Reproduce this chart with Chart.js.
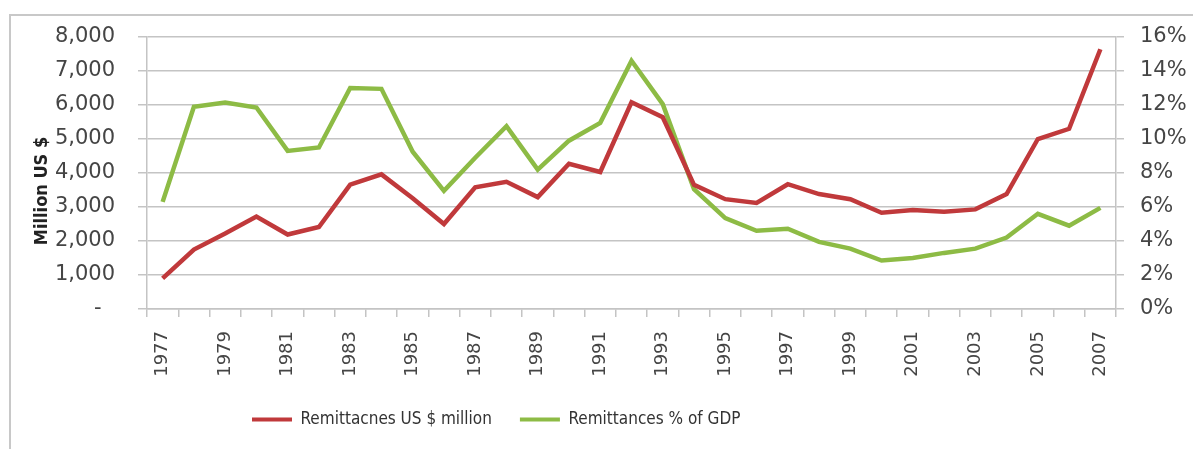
<!DOCTYPE html>
<html>
<head>
<meta charset="utf-8">
<script src="https://cdn.jsdelivr.net/npm/chart.js@4.4.0/dist/chart.umd.min.js"></script>
<style>
  html, body { margin: 0; padding: 0; background: #fff; }
  #wrap { position: relative; width: 1193px; height: 449px; }
</style>
</head>
<body>
<div id="wrap"><canvas id="chart" width="1193" height="449"></canvas></div>
<script>
  const years = ['1977','1978','1979','1980','1981','1982','1983','1984','1985','1986',
    '1987','1988','1989','1990','1991','1992','1993','1994','1995','1996',
    '1997','1998','1999','2000','2001','2002','2003','2004','2005','2006','2007'];

  // Remittances, US $ million
  const remitMillion = [900, 1750, 2220, 2720, 2190, 2410, 3660, 3960, 3260, 2500,
    3580, 3740, 3290, 4270, 4030, 6080, 5640, 3650, 3230, 3120,
    3670, 3380, 3230, 2830, 2910, 2860, 2930, 3380, 5000, 5300, 7640];

  // Remittances as % of GDP
  const remitPctGdp = [6.3, 11.9, 12.15, 11.85, 9.3, 9.5, 13.0, 12.95, 9.25, 6.95,
    8.9, 10.75, 8.2, 9.9, 10.95, 14.6, 12.05, 7.05, 5.35, 4.6,
    4.72, 3.95, 3.55, 2.85, 3.0, 3.3, 3.55, 4.2, 5.6, 4.9, 5.95];

  const seriesNames = ['Remittacnes US $ million', 'Remittances % of GDP'];
  const axisTitle = 'Million US $';

  const gridColor = '#c4c4c4';
  const textColor = '#454545';
  const legendFont = "'Liberation Sans Narrow', 'DejaVu Sans Condensed', sans-serif";

  // outer frame of the chart object + rotated axis title
  const decor = {
    id: 'decor',
    beforeDraw(chart) {
      const ctx = chart.ctx;
      ctx.save();
      ctx.strokeStyle = '#c8c8c8';
      ctx.lineWidth = 2;
      ctx.beginPath();
      ctx.moveTo(10, 449);
      ctx.lineTo(10, 15);
      ctx.lineTo(1193, 15);
      ctx.stroke();
      ctx.restore();
    },
    afterDraw(chart) {
      const ctx = chart.ctx;
      ctx.save();
      ctx.translate(42, 191);
      ctx.rotate(-Math.PI / 2);
      ctx.font = "bold 18px " + legendFont;
      ctx.fillStyle = '#222';
      ctx.textAlign = 'center';
      ctx.textBaseline = 'middle';
      ctx.fillText(axisTitle, 0, 0);
      ctx.restore();
    },
    afterLayout(chart) {
      // Excel puts the legend a bit left of centre
      const lg = chart.legend;
      const p = lg.options.labels.padding;
      lg.left = 252 - p;
      lg.top = 420 - p - 9;
    }
  };

  new Chart(document.getElementById('chart'), {
    type: 'line',
    data: {
      labels: years,
      datasets: [
        {
          label: seriesNames[0],
          data: remitMillion,
          borderColor: '#c0393b',
          backgroundColor: '#c0393b',
          borderWidth: 4.5,
          pointRadius: 0,
          tension: 0,
          yAxisID: 'y'
        },
        {
          label: seriesNames[1],
          data: remitPctGdp,
          borderColor: '#8dbb45',
          backgroundColor: '#8dbb45',
          borderWidth: 4.5,
          pointRadius: 0,
          tension: 0,
          yAxisID: 'y1'
        }
      ]
    },
    options: {
      responsive: false,
      animation: false,
      layout: { padding: { top: 37, left: 0, right: 0, bottom: 0 } },
      plugins: {
        tooltip: { enabled: false },
        legend: {
          position: 'bottom',
          align: 'start',
          labels: {
            boxWidth: 40,
            boxHeight: 4,
            padding: 28,
            color: '#333',
            font: { family: legendFont, size: 17 },
            generateLabels: chart =>
              Chart.defaults.plugins.legend.labels.generateLabels(chart)
                .map(l => ({ ...l, fillStyle: l.strokeStyle, lineWidth: 0 }))
          }
        }
      },
      scales: {
        x: {
          offset: true,
          afterFit: s => { s.height = 85; },
          grid: {
            offset: true,
            drawOnChartArea: false,
            tickLength: 8,
            color: gridColor,
            lineWidth: 1.5
          },
          border: { display: true, color: gridColor, width: 1.5 },
          ticks: {
            autoSkip: false,
            minRotation: 90,
            maxRotation: 90,
            padding: 14,
            color: textColor,
            font: { family: 'DejaVu Sans', size: 18 },
            callback: (v, i) => (i % 2 === 0 ? years[i] : '')
          }
        },
        y: {
          position: 'left',
          min: 0,
          max: 8000,
          afterFit: s => { s.width = 147; },
          grid: { color: gridColor, lineWidth: 1.5, tickLength: 9 },
          border: { display: true, color: gridColor, width: 1.5 },
          ticks: {
            stepSize: 1000,
            padding: 23,
            color: textColor,
            font: { family: 'DejaVu Sans', size: 21 },
            callback: v => (v === 0 ? '-  ' : v.toLocaleString('en-US'))
          }
        },
        y1: {
          position: 'right',
          min: 0,
          max: 16,
          afterFit: s => { s.width = 77; },
          grid: { drawOnChartArea: false, color: gridColor, lineWidth: 1.5, tickLength: 8 },
          border: { display: true, color: gridColor, width: 1.5 },
          ticks: {
            stepSize: 2,
            padding: 16,
            color: textColor,
            font: { family: 'DejaVu Sans', size: 21 },
            callback: v => v + '%'
          }
        }
      }
    },
    plugins: [decor]
  });
</script>
</body>
</html>
